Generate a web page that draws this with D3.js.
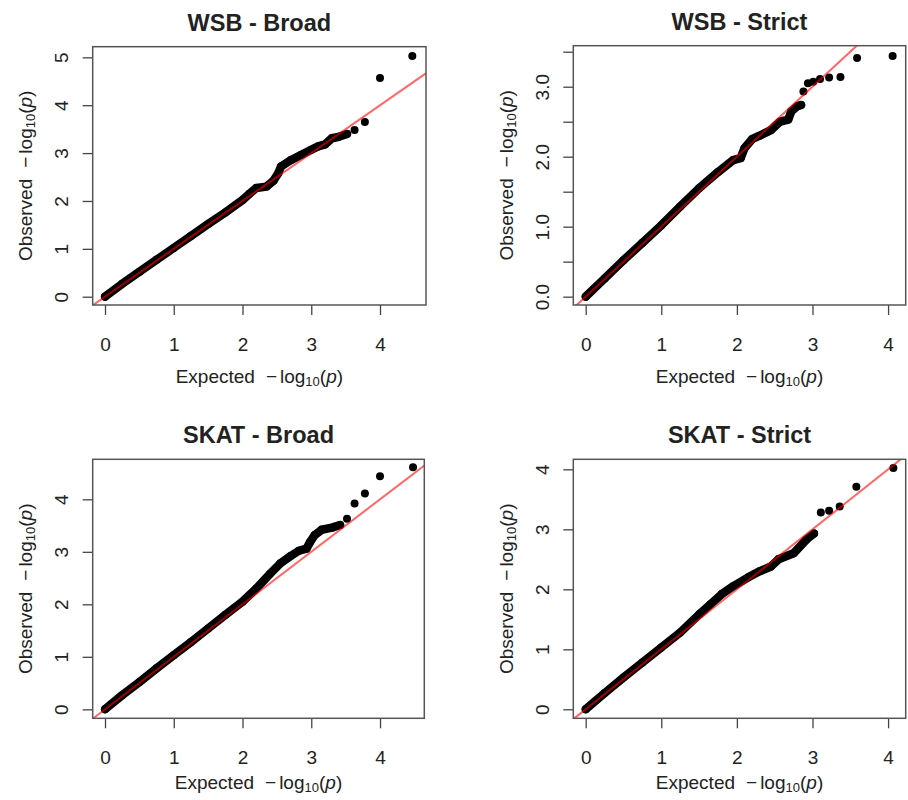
<html lang="en">
  <head>
    <title>qq-plots</title>
    <script src="https://d3js.org/d3.v7.min.js"></script>
    <style>
      body { margin: 0; background: #fff; }
      svg text { font-family: 'Liberation Sans', Arial, sans-serif; fill: #222; }
      .box { fill: none; stroke: #555; stroke-width: 1.5; }
      .tick line { stroke: #444; stroke-width: 1.3; }
      .title { font-weight: bold; font-size: 23.5px; }
      .tick text, .lab { font-size: 19px; }
    </style>
  </head>
  <body>
    <svg id="chart" width="908" height="800"></svg>
    <script>

      const titles = ['WSB - Broad', 'WSB - Strict', 'SKAT - Broad', 'SKAT - Strict']

      // dense part of each QQ curve, [expected, observed]
      const wsbBroadBand = [[0, 0], [0.25, 0.27], [0.5, 0.52], [0.75, 0.77], [1.0, 1.02], [1.25, 1.27],
        [1.5, 1.52], [1.75, 1.76], [2.0, 2.02], [2.1, 2.15], [2.2, 2.27], [2.35, 2.3], [2.45, 2.42],
        [2.52, 2.58], [2.56, 2.72], [2.7, 2.85], [2.85, 2.96], [3.0, 3.07], [3.1, 3.14], [3.2, 3.18],
        [3.3, 3.31], [3.4, 3.34], [3.52, 3.4]]
      const wsbBroadTail = [[3.63, 3.48], [3.78, 3.65], [4.0, 4.57], [4.47, 5.03]]

      const wsbStrictBand = [[0, 0], [0.25, 0.26], [0.5, 0.52], [0.75, 0.77], [1.0, 1.02], [1.25, 1.29],
        [1.5, 1.55], [1.75, 1.78], [1.95, 1.95], [2.05, 1.98], [2.1, 2.12], [2.2, 2.25], [2.3, 2.3],
        [2.45, 2.38], [2.57, 2.5], [2.68, 2.53], [2.72, 2.65], [2.8, 2.72], [2.85, 2.74]]
      const wsbStrictTail = [[2.88, 2.93], [2.94, 3.05], [3.01, 3.07], [3.1, 3.11], [3.22, 3.13],
        [3.37, 3.14], [3.59, 3.41], [4.06, 3.44]]

      const skatBroadBand = [[0, 0], [0.25, 0.27], [0.5, 0.52], [0.75, 0.78], [1.0, 1.03], [1.25, 1.28],
        [1.5, 1.54], [1.75, 1.8], [2.0, 2.05], [2.2, 2.3], [2.4, 2.58], [2.55, 2.78], [2.7, 2.92],
        [2.82, 3.02], [2.93, 3.06], [2.98, 3.18], [3.05, 3.32], [3.15, 3.42], [3.3, 3.46], [3.42, 3.51]]
      const skatBroadTail = [[3.52, 3.63], [3.63, 3.92], [3.78, 4.11], [4.0, 4.44], [4.48, 4.61]]

      const skatStrictBand = [[0, 0], [0.25, 0.27], [0.5, 0.53], [0.75, 0.78], [1.0, 1.03], [1.25, 1.28],
        [1.5, 1.58], [1.65, 1.75], [1.8, 1.92], [1.95, 2.05], [2.15, 2.2], [2.3, 2.3], [2.45, 2.38],
        [2.55, 2.5], [2.75, 2.6], [2.92, 2.83], [3.02, 2.93]]
      const skatStrictTail = [[3.11, 3.28], [3.22, 3.31], [3.36, 3.38], [3.58, 3.71], [4.07, 4.02]]

      const xTicks = [0, 1, 2, 3, 4]
      const yTicksBroadWsb = [0, 1, 2, 3, 4, 5]
      const yTicksStrictWsb = [0, 0.5, 1, 1.5, 2, 2.5, 3, 3.5]
      const yTicks4 = [0, 1, 2, 3, 4]

      const intFmt = d3.format('d')
      const halfFmt = d => d % 1 === 0 ? d3.format('.1f')(d) : ''

      // plot boxes [left, top, right, bottom], axis limits, x-label offset
      const panels = [
        { title: titles[0], band: wsbBroadBand, tail: wsbBroadTail, yTicks: yTicksBroadWsb,
          box: [92.7, 46.7, 426, 305], xDom: [-0.179, 4.669], yDom: [-0.173, 5.222], fmt: intFmt, lab: 71 },
        { title: titles[1], band: wsbStrictBand, tail: wsbStrictTail, yTicks: yTicksStrictWsb,
          box: [573.3, 45.7, 905.7, 305], xDom: [-0.164, 4.233], yDom: [-0.119, 3.586], fmt: halfFmt, lab: 71 },
        { title: titles[2], band: skatBroadBand, tail: skatBroadTail, yTicks: yTicks4,
          box: [92.7, 459.3, 424.3, 718.3], xDom: [-0.179, 4.644], yDom: [-0.171, 4.762], fmt: intFmt, lab: 64 },
        { title: titles[3], band: skatStrictBand, tail: skatStrictTail, yTicks: yTicks4,
          box: [573.3, 459.3, 905.7, 718.3], xDom: [-0.164, 4.233], yDom: [-0.15, 4.167], fmt: intFmt, lab: 64 }
      ]

      const svg = d3.select('#chart')

      function axisLabel(sel, word) {
        sel.append('tspan').text(word)
        sel.append('tspan').text('\u2212').attr('dx', 11)
        sel.append('tspan').text('log').attr('dx', 3)
        sel.append('tspan').text('10').attr('font-size', '13px').attr('dy', '3')
        sel.append('tspan').text('(').attr('dy', '-3')
        sel.append('tspan').text('p').attr('font-style', 'italic')
        sel.append('tspan').text(')')
      }

      panels.forEach((p, i) => {
        const [l, t, r, b] = p.box
        const x = d3.scaleLinear().domain(p.xDom).range([l, r])
        const y = d3.scaleLinear().domain(p.yDom).range([b, t])
        const g = svg.append('g')

        g.append('clipPath').attr('id', 'clip' + i)
          .append('rect').attr('x', l).attr('y', t).attr('width', r - l).attr('height', b - t)

        // x axis
        const xa = g.append('g').attr('transform', `translate(0,${b})`)
          .call(d3.axisBottom(x).tickValues(xTicks).tickFormat(intFmt).tickSize(10).tickSizeOuter(0))
        xa.select('.domain').remove()
        xa.selectAll('text').attr('y', 39).attr('dy', '0.35em')

        // y axis, labels parallel to the axis as in R
        const ya = g.append('g').attr('transform', `translate(${l},0)`)
          .call(d3.axisLeft(y).tickValues(p.yTicks).tickFormat(p.fmt).tickSize(10).tickSizeOuter(0))
        ya.select('.domain').remove()
        ya.selectAll('text')
          .attr('x', null).attr('dy', '0.35em')
          .attr('transform', 'translate(-31,0) rotate(-90)')
          .attr('text-anchor', 'middle')

        const pts = g.append('g').attr('clip-path', `url(#clip${i})`)
        pts.append('path')
          .datum(p.band)
          .attr('d', d3.line().x(d => x(d[0])).y(d => y(d[1])))
          .attr('fill', 'none').attr('stroke', '#000')
          .attr('stroke-width', 8.5).attr('stroke-linejoin', 'round').attr('stroke-linecap', 'round')
        pts.selectAll('circle')
          .data(p.band.concat(p.tail))
          .join('circle')
          .attr('cx', d => x(d[0]))
          .attr('cy', d => y(d[1]))
          .attr('r', 4)
          .attr('fill', '#000')

        // y = x reference line
        const lo = Math.min(p.xDom[0], p.yDom[0]), hi = Math.max(p.xDom[1], p.yDom[1])
        pts.append('line')
          .attr('x1', x(lo)).attr('y1', y(lo)).attr('x2', x(hi)).attr('y2', y(hi))
          .attr('stroke', 'red').attr('stroke-opacity', 0.6).attr('stroke-width', 2)

        g.append('rect').attr('class', 'box')
          .attr('x', l).attr('y', t).attr('width', r - l).attr('height', b - t)

        g.append('text').attr('class', 'title')
          .attr('x', (l + r) / 2).attr('y', t - 16)
          .attr('text-anchor', 'middle')
          .text(p.title)

        g.append('text').attr('class', 'lab')
          .attr('x', (l + r) / 2).attr('y', b + p.lab).attr('dy', '0.35em')
          .attr('text-anchor', 'middle')
          .call(axisLabel, 'Expected')

        g.append('text').attr('class', 'lab')
          .attr('transform', `translate(${l - 67},${(t + b) / 2}) rotate(-90)`)
          .attr('dy', '0.35em')
          .attr('text-anchor', 'middle')
          .call(axisLabel, 'Observed')
      })
    </script>
  </body>
</html>
